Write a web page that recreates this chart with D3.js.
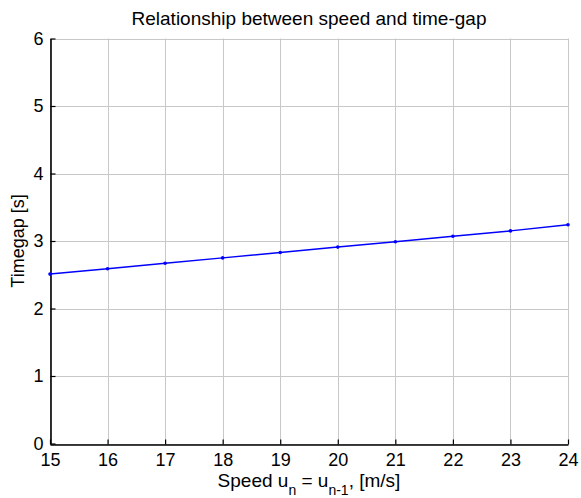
<!DOCTYPE html>
<html>
<head>
<meta charset="utf-8">
<script src="https://cdn.jsdelivr.net/npm/d3@7"></script>
<style>
  body { margin: 0; background: #fff; }
  text { font-family: "Liberation Sans", Arial, sans-serif; }
</style>
</head>
<body>
<div id="chart"></div>
<script>
// data
const speeds = [15, 16, 17, 18, 19, 20, 21, 22, 23, 24];
const timegaps = [2.51, 2.59, 2.67, 2.75, 2.83, 2.91, 2.99, 3.07, 3.15, 3.24];
const xTicks = [15, 16, 17, 18, 19, 20, 21, 22, 23, 24];
const yTicks = [0, 1, 2, 3, 4, 5, 6];

const width = 581, height = 498;
const margin = { left: 50, right: 13, top: 38.5, bottom: 54.5 };

const svg = d3.select("#chart").append("svg")
    .attr("width", width)
    .attr("height", height);

const x = d3.scaleLinear().domain([15, 24]).range([margin.left, width - margin.right]);
const y = d3.scaleLinear().domain([0, 6]).range([height - margin.bottom, margin.top]);

// grid
const grid = svg.append("g").attr("stroke", "#c8c8c8").attr("stroke-width", 1);
grid.selectAll(".gx").data(xTicks).join("line")
    .attr("x1", d => Math.round(x(d)) + 0.5).attr("x2", d => Math.round(x(d)) + 0.5)
    .attr("y1", y(6)).attr("y2", y(0));
grid.selectAll(".gy").data(yTicks).join("line")
    .attr("x1", x(15)).attr("x2", x(24))
    .attr("y1", d => Math.round(y(d)) + 0.5).attr("y2", d => Math.round(y(d)) + 0.5);

// axes (ticks pointing inward)
const xAxis = svg.append("g")
    .attr("transform", `translate(0,${Math.round(y(0)) + 0.5})`)
    .call(d3.axisBottom(x).tickValues(xTicks).tickFormat(d3.format("d"))
      .tickSizeInner(-5).tickSizeOuter(0).tickPadding(9));
const yAxis = svg.append("g")
    .attr("transform", `translate(${Math.round(x(15)) + 0.5},0)`)
    .call(d3.axisLeft(y).tickValues(yTicks).tickFormat(d3.format("d"))
      .tickSizeInner(-5).tickSizeOuter(0).tickPadding(7));

[xAxis, yAxis].forEach(a => {
  a.select(".domain").attr("stroke", "#000").attr("stroke-width", 1.6);
  a.selectAll(".tick line").attr("stroke", "#000").attr("stroke-width", 1.2);
  a.selectAll(".tick text")
      .attr("fill", "#000")
      .style("font-family", "'Liberation Sans', Arial, sans-serif")
      .style("font-size", "18px");
});

// line + markers
const pts = speeds.map((s, i) => [s, timegaps[i]]);
svg.append("path")
    .datum(pts)
    .attr("fill", "none")
    .attr("stroke", "#0000ff")
    .attr("stroke-width", 1.5)
    .attr("d", d3.line().x(d => x(d[0])).y(d => y(d[1])));
svg.append("g").selectAll("circle").data(pts).join("circle")
    .attr("cx", d => x(d[0])).attr("cy", d => y(d[1]))
    .attr("r", 1.8).attr("fill", "#0000ff");

// title
svg.append("text")
    .attr("x", (x(15) + x(24)) / 2).attr("y", 25)
    .attr("text-anchor", "middle")
    .style("font-size", "19px")
    .text("Relationship between speed and time-gap");

// x label with subscripts
const xl = svg.append("text")
    .attr("x", (x(15) + x(24)) / 2).attr("y", 487)
    .attr("text-anchor", "middle")
    .style("font-size", "19px");
xl.append("tspan").text("Speed u");
xl.append("tspan").attr("dy", 8).style("font-size", "14px").text("n");
xl.append("tspan").attr("dy", -8).text(" = u");
xl.append("tspan").attr("dy", 8).style("font-size", "14px").text("n-1");
xl.append("tspan").attr("dy", -8).text(", [m/s]");

// y label
svg.append("text")
    .attr("transform", `translate(24,${(y(0) + y(6)) / 2}) rotate(-90)`)
    .attr("text-anchor", "middle")
    .style("font-size", "18px")
    .text("Timegap [s]");
</script>
</body>
</html>
